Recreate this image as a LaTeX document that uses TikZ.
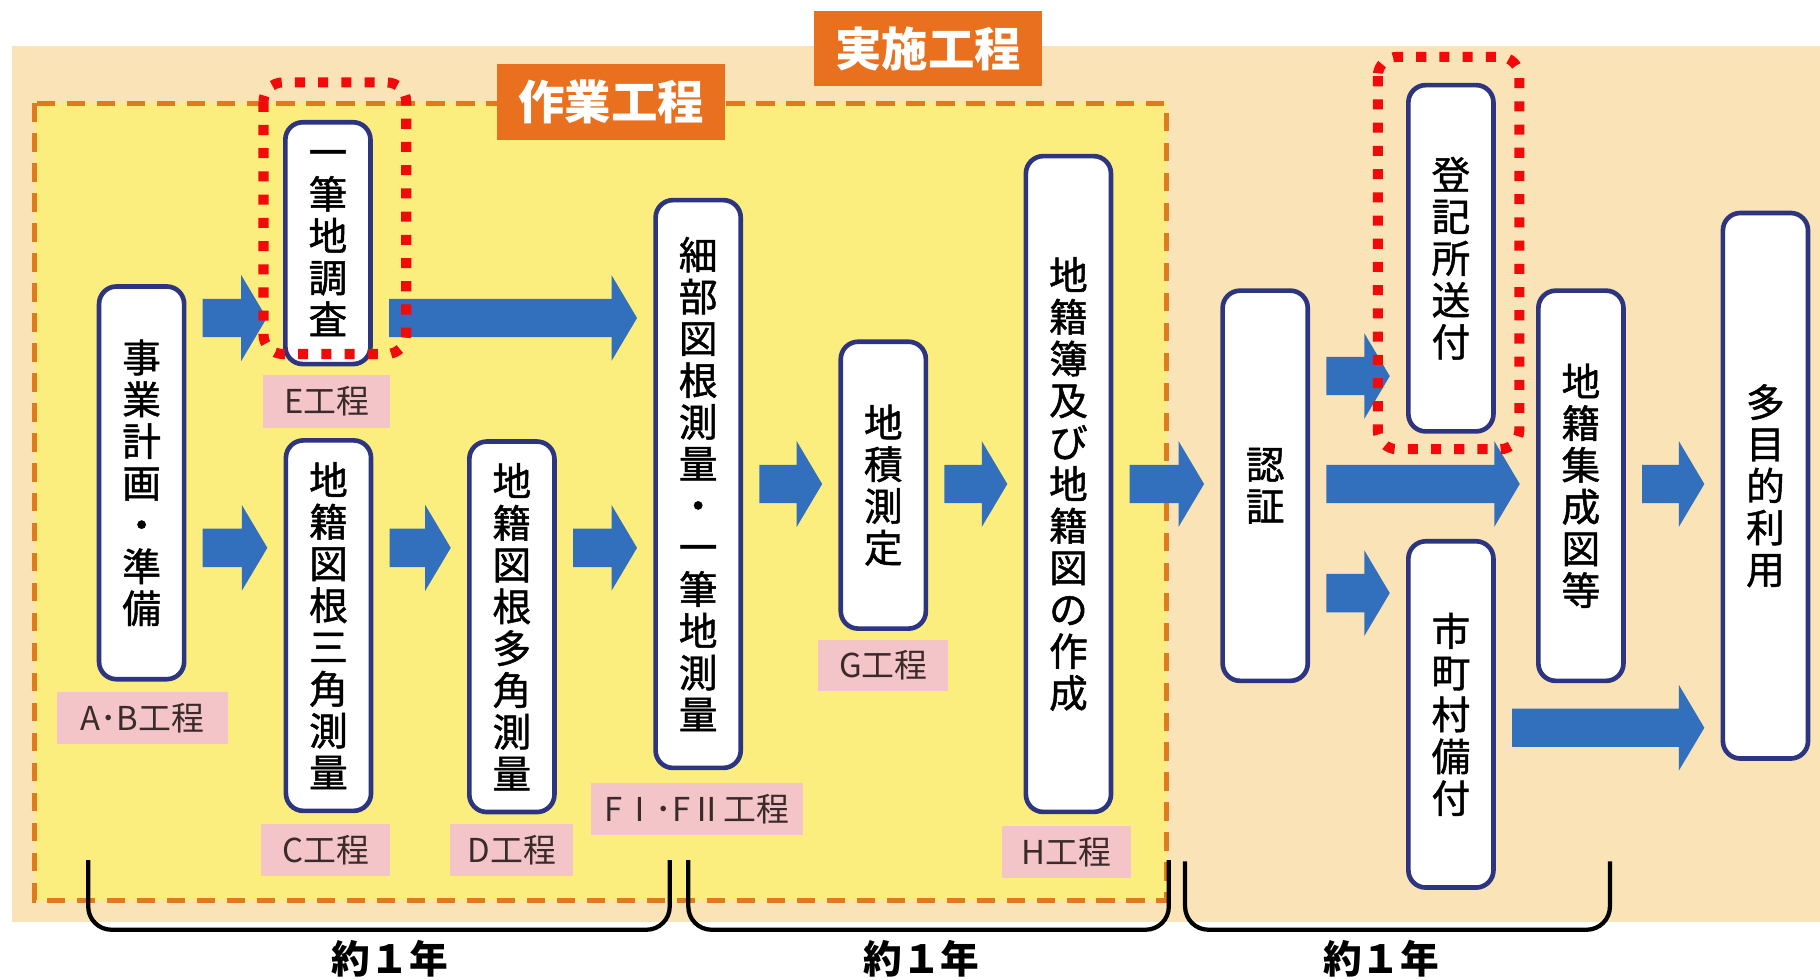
\documentclass[tikz,border=0pt]{standalone}
\usepackage{fontspec}
\newfontfamily\jp{Noto Sans CJK JP}
\newfontfamily\jpm[FakeBold=1.2]{Noto Sans CJK JP}
\usetikzlibrary{calc}
\definecolor{beige}{HTML}{FAE3B6}
\definecolor{yel}{HTML}{FCEE7E}
\definecolor{dashorange}{HTML}{E07A1E}
\definecolor{titleorange}{HTML}{E8701E}
\definecolor{navy}{HTML}{2D3580}
\definecolor{pinklab}{HTML}{F3C5C8}
\definecolor{labtext}{HTML}{3A2A2A}
\definecolor{ablue}{HTML}{3270BE}
\definecolor{dotred}{HTML}{F00A0A}
\tikzset{
  box/.style={draw=navy, line width=2.4pt, fill=white, rounded corners=9pt, inner sep=0pt,
    minimum width=44pt, align=center, font=\jpm\fontsize{20}{21.6}\selectfont},
  lab/.style={fill=pinklab, inner sep=0pt, text=labtext, font=\jp\fontsize{17}{17}\selectfont},
  ttl/.style={fill=titleorange, inner sep=0pt, minimum width=118.2pt, minimum height=39pt,
    text=white, font=\jp\bfseries\fontsize{24}{24}\selectfont},
  barrow/.style={fill=ablue, draw=none, to path={let \p1=(\tikztostart), \p2=(\tikztotarget) in
    (\x1+8.4pt,\y1+9.9pt) -- (\x2-21.6pt,\y1+9.9pt) -- (\x2-21.6pt,\y1+22.2pt) -- (\x2-8.4pt,\y1)
    -- (\x2-21.6pt,\y1-22.2pt) -- (\x2-21.6pt,\y1-9.9pt) -- (\x1+8.4pt,\y1-9.9pt) -- cycle}},
  reddot/.style={draw=dotred, line width=5.2pt, dash pattern=on 5.2pt off 6.8pt, rounded corners=10pt},
  brace/.style={draw=black, line width=2.2pt, rounded corners=12pt},
  yeartext/.style={font=\jp\bfseries\fontsize{20}{20}\selectfont, text=black}
}
\begin{document}
\begin{tikzpicture}[x=0.6pt,y=-0.6pt]
\useasboundingbox (0,0) rectangle (1568,844);
\fill[white] (0,0) rectangle (1568,844);
% backgrounds
\fill[beige] (10,40) rectangle (1568,794);
\fill[yel] (30,89) rectangle (1005,776);
\draw[dashorange, line width=2.6pt, dash pattern=on 9.5pt off 6pt] (30,89) rectangle (1005,776);
% titles
\node[ttl] (jisshi) at (799.5,42) {実施工程};
\node[ttl] (sagyo) at (526.5,88) {作業工程};
% arrow levels
\coordinate (y1) at (0,274);
\coordinate (y2) at (0,472);
\coordinate (y3) at (0,417);
\coordinate (y4) at (0,324);
\coordinate (y5) at (0,511);
\coordinate (y6) at (0,627);
% boxes
\node[box, minimum height=203pt] (A) at (122,416) {事\\業\\計\\画\\・\\準\\備};
\node[box, minimum height=125pt] (E) at (282.5,209.5) {一\\筆\\地\\調\\査};
\node[box, minimum height=191.5pt] (C) at (283,539) {地\\籍\\図\\根\\三\\角\\測\\量};
\node[box, minimum height=191.5pt] (D) at (441,540) {地\\籍\\図\\根\\多\\角\\測\\量};
\node[box, minimum height=293.5pt] (F) at (601.5,417) {細\\部\\図\\根\\測\\量\\・\\一\\筆\\地\\測\\量};
\node[box, minimum height=148.3pt] (G) at (761,418) {地\\積\\測\\定};
\node[box, minimum height=339pt] (H) at (920.5,417) {地\\籍\\簿\\及\\び\\地\\籍\\図\\の\\作\\成};
\node[box, minimum height=201.7pt] (N) at (1090,418.5) {認\\証};
\node[box, minimum height=179pt] (R) at (1250,222.5) {登\\記\\所\\送\\付};
\node[box, minimum height=179pt] (M) at (1250,615.5) {市\\町\\村\\備\\付};
\node[box, minimum height=201.7pt] (S) at (1362,418.5) {地\\籍\\集\\成\\図\\等};
\node[box, minimum height=282pt] (T) at (1521,418.5) {多\\目\\的\\利\\用};
% arrows
\path[barrow] (A.east|-y1) to (E.west|-y1);
\path[barrow] (E.east|-y1) to (F.west|-y1);
\path[barrow] (A.east|-y2) to (C.west|-y2);
\path[barrow] (C.east|-y2) to (D.west|-y2);
\path[barrow] (D.east|-y2) to (F.west|-y2);
\path[barrow] (F.east|-y3) to (G.west|-y3);
\path[barrow] (G.east|-y3) to (H.west|-y3);
\path[barrow] (H.east|-y3) to (N.west|-y3);
\path[barrow] (N.east|-y3) to (S.west|-y3);
\path[barrow] (S.east|-y3) to (T.west|-y3);
\path[barrow] (N.east|-y4) to (R.west|-y4);
\path[barrow] (N.east|-y5) to (M.west|-y5);
\path[barrow] (M.east|-y6) to (T.west|-y6);
% labels
\node[lab, minimum width=88.2pt, minimum height=27pt] (labAB) at (122.5,618.5) {A･B工程};
\node[lab, minimum width=65.4pt, minimum height=27.6pt] (labE) at (281.5,346) {E工程};
\node[lab, minimum width=66.6pt, minimum height=27pt] (labC) at (280.5,732.5) {C工程};
\node[lab, minimum width=63.6pt, minimum height=27pt] (labD) at (441,732.5) {D工程};
\node[lab, minimum width=109.8pt, minimum height=26.4pt] (labF) at (600.5,697) {FⅠ･FⅡ工程};
\node[lab, minimum width=67.2pt, minimum height=26.4pt] (labG) at (761,573) {G工程};
\node[lab, minimum width=66.6pt, minimum height=26.4pt] (labH) at (918.5,734) {H工程};
% red dotted frames
\draw[reddot] (227,71) rectangle (350,305);
\draw[reddot] (1187,49) rectangle (1309,387);
% braces
\draw[brace] (76,741) -- (76,801) -- (577,801) -- (577,741);
\draw[brace] (593,741) -- (593,801) -- (1007,801) -- (1007,741);
\draw[brace] (1021,742) -- (1021,801) -- (1387,801) -- (1387,742);
\node[yeartext] (yr1) at (336,826) {約１年};
\node[yeartext] (yr2) at (794,826) {約１年};
\node[yeartext] (yr3) at (1190,826) {約１年};
\end{tikzpicture}
\end{document}
